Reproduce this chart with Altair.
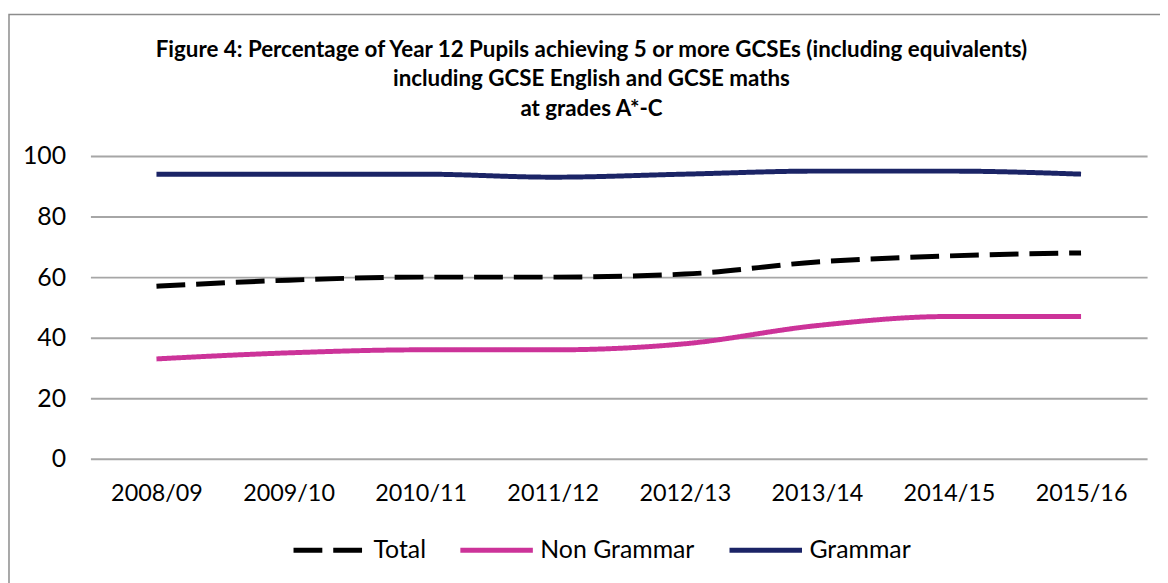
import altair as alt
import pandas as pd

years = ["2008/09", "2009/10", "2010/11", "2011/12", "2012/13", "2013/14", "2014/15", "2015/16"]
total = [57, 59, 60, 60, 61, 65, 67, 68]
non_grammar = [33, 35, 36, 36, 38, 44, 47, 47]
grammar = [94, 94, 94, 93, 94, 95, 95, 94]
series_names = ["Total", "Non Grammar", "Grammar"]
series_colors = ["#000000", "#CC3399", "#1B2466"]
y_ticks = [0, 20, 40, 60, 80, 100]
title_lines = ["Figure 4: Percentage of Year 12 Pupils achieving 5 or more GCSEs (including equivalents)",
               "including GCSE English and GCSE maths",
               "at grades A*-C"]

rows = []
for name, vals in zip(series_names, [total, non_grammar, grammar]):
    for yr, v in zip(years, vals):
        rows.append({"Year": yr, "Value": v, "Series": name})
df = pd.DataFrame(rows)

FONT = "Lato"
FS = 25

lines = alt.Chart(df).mark_line(strokeWidth=5, interpolate="monotone").encode(
    x=alt.X("Year:N", sort=years, title=None,
            scale=alt.Scale(paddingOuter=0.5, paddingInner=0),
            axis=alt.Axis(labelAngle=0, ticks=False, domain=False, grid=False,
                          labelFontSize=23.5, labelFont=FONT, labelColor="#000000",
                          labelPadding=23)),
    y=alt.Y("Value:Q", title=None, scale=alt.Scale(domain=[0, 100], nice=False),
            axis=alt.Axis(values=y_ticks, ticks=False, domain=False, grid=True,
                          gridColor="#A6A6A6", gridWidth=2,
                          labelFontSize=FS, labelFont=FONT, labelColor="#000000",
                          labelPadding=25)),
    color=alt.Color("Series:N", sort=series_names,
                    scale=alt.Scale(domain=series_names, range=series_colors),
                    legend=alt.Legend(title=None, orient="none", legendX=202, legendY=358,
                                      direction="horizontal", symbolType="stroke",
                                      symbolSize=5329, symbolStrokeWidth=5,
                                      labelFontSize=FS, labelFont=FONT, labelColor="#000000",
                                      labelOffset=5, columnPadding=24)),
    strokeDash=alt.StrokeDash("Series:N", sort=series_names,
                              scale=alt.Scale(domain=series_names,
                                              range=[[29, 11], [1, 0], [1, 0]]),
                              legend=None),
)

base = alt.Chart(pd.DataFrame({"a": [0]}))

frame = base.mark_rect(
    fill="transparent", stroke="#8C8C8C", strokeWidth=1.5
).encode(x=alt.value(-82), x2=alt.value(1200), y=alt.value(-142.5), y2=alt.value(600))

title_layers = [
    base.mark_text(text=t, font=FONT, fontSize=22.5, fontWeight="bold", color="#000000",
                   align="center", baseline="middle").encode(
        x=alt.value(504.5), y=alt.value(-107 + 30 * i))
    for i, t in enumerate(title_lines)
]

chart = alt.layer(frame, *title_layers, lines).properties(
    width=1064, height=305,
    autosize=alt.AutoSizeParams(type="none"),
    padding={"left": 83, "top": 147, "right": 13, "bottom": 123},
).configure_view(stroke=None)

chart.save("out.html", embed_options={"renderer": "svg", "actions": False})
